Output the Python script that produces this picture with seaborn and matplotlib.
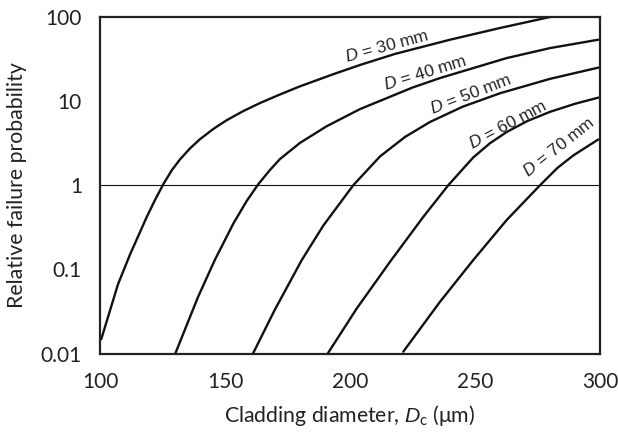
import numpy as np
import pandas as pd
import matplotlib
matplotlib.use("Agg")
import matplotlib.pyplot as plt
import seaborn as sns
from matplotlib.ticker import FixedLocator, FixedFormatter, NullLocator

# ---- data ----
d30_x = [100.5, 107.2, 112.0, 118.67, 122.0, 125.33, 128.67, 132.0, 136.0, 140.0, 145.33, 150.67,
         157.33, 164.0, 172.0, 180.0, 193.33, 204.0, 218.0, 240.0, 260.0, 280.0]
d30_y = [0.0148, 0.0665, 0.150, 0.418, 0.668, 1.03, 1.50, 2.03, 2.74, 3.53, 4.67, 5.93,
         7.62, 9.49, 12.0, 15.0, 20.9, 26.9, 36.4, 53.7, 74.0, 100.0]

d40_x = [130.13, 139.2, 146.0, 153.33, 158.67, 163.33, 168.0, 172.0, 180.0, 190.67, 204.0,
         225.0, 236.0, 262.7, 280.0, 299.3]
d40_y = [0.01, 0.0469, 0.1306, 0.350, 0.650, 1.03, 1.52, 2.05, 3.19, 5.03, 8.04,
         14.5, 18.8, 32.5, 42.7, 53.7]

d50_x = [161.2, 169.9, 180.7, 189.3, 201.3, 212.0, 222.0, 232.0, 245.0, 260.0, 280.0, 299.3]
d50_y = [0.01, 0.033, 0.129, 0.331, 1.0, 2.20, 3.75, 5.65, 8.57, 12.4, 18.4, 25.0]

d60_x = [191.1, 202.7, 216.0, 229.3, 239.3, 249.3, 256.0, 262.7, 271.0, 280.0, 290.0, 299.3]
d60_y = [0.01, 0.0343, 0.123, 0.42, 1.0, 2.14, 3.16, 4.30, 5.81, 7.46, 9.3, 11.0]

d70_x = [221.3, 236.0, 249.3, 262.7, 276.0, 283.0, 289.3, 299.3]
d70_y = [0.0105, 0.0412, 0.129, 0.387, 1.0, 1.61, 2.26, 3.5]

series_names = ["D = 30 mm", "D = 40 mm", "D = 50 mm", "D = 60 mm", "D = 70 mm"]
label_values = ["30", "40", "50", "60", "70"]
label_x = [214.7, 230.0, 248.4, 263.0, 283.6]
label_y = [45.0, 21.5, 12.0, 5.3, 2.85]
label_rot = [15, 17, 21, 28, 38]

x_ticks = [100, 150, 200, 250, 300]
y_ticks = [0.01, 0.1, 1, 10, 100]
y_ticklabels = ["0.01", "0.1", "1", "10", "100"]

xs = [d30_x, d40_x, d50_x, d60_x, d70_x]
ys = [d30_y, d40_y, d50_y, d60_y, d70_y]
df = pd.concat(
    [pd.DataFrame({"x": x, "y": y, "series": n}) for x, y, n in zip(xs, ys, series_names)],
    ignore_index=True,
)

# ---- style ----
sns.set_theme(style="white")
plt.rcParams["font.family"] = ["Lato", "DejaVu Sans"]
plt.rcParams["mathtext.fontset"] = "custom"
plt.rcParams["mathtext.it"] = "Liberation Sans:italic"
plt.rcParams["mathtext.rm"] = "Lato"

fig = plt.figure(figsize=(6.18, 4.34), dpi=100)
ax = fig.add_axes([100 / 618, 1 - 353.5 / 434, 500 / 618, (353.5 - 17) / 434])

sns.lineplot(data=df, x="x", y="y", hue="series", units="series", estimator=None,
             palette=["#111111"] * 5, legend=False, linewidth=1.7, ax=ax, sort=True)
for ln in ax.get_lines():
    ln.set_solid_joinstyle("round")
    ln.set_solid_capstyle("round")

ax.set_yscale("log")
ax.set_xlim(100, 300)
ax.set_ylim(0.01, 100)
ax.axhline(1, color="#111111", linewidth=0.8, zorder=1)

ax.xaxis.set_major_locator(FixedLocator(x_ticks))
ax.set_xticklabels([str(t) for t in x_ticks])
ax.yaxis.set_major_locator(FixedLocator(y_ticks))
ax.yaxis.set_major_formatter(FixedFormatter(y_ticklabels))
ax.yaxis.set_minor_locator(NullLocator())

ax.tick_params(axis="both", which="major", direction="in", length=6, width=1.5,
               color="#222222", labelsize=15, labelcolor="#222222")
ax.tick_params(axis="y", pad=13)
ax.tick_params(axis="x", pad=13)

for s in ax.spines.values():
    s.set_visible(True)
    s.set_color("#222222")
    s.set_linewidth(1.6)

ax.set_xlabel(r"Cladding diameter, $D_{\mathrm{c}}$ (μm)", fontsize=15.3, color="#222222", labelpad=8)
ax.set_ylabel("Relative failure probability", fontsize=15.3, color="#222222", labelpad=10)

for v, lx, ly, r in zip(label_values, label_x, label_y, label_rot):
    ax.text(lx, ly, r"$D$" + f" = {v} mm", family="Liberation Sans", fontsize=12.5,
            rotation=r, rotation_mode="anchor", ha="center", va="center", color="#222222")

fig.savefig("out.png", dpi=100)
